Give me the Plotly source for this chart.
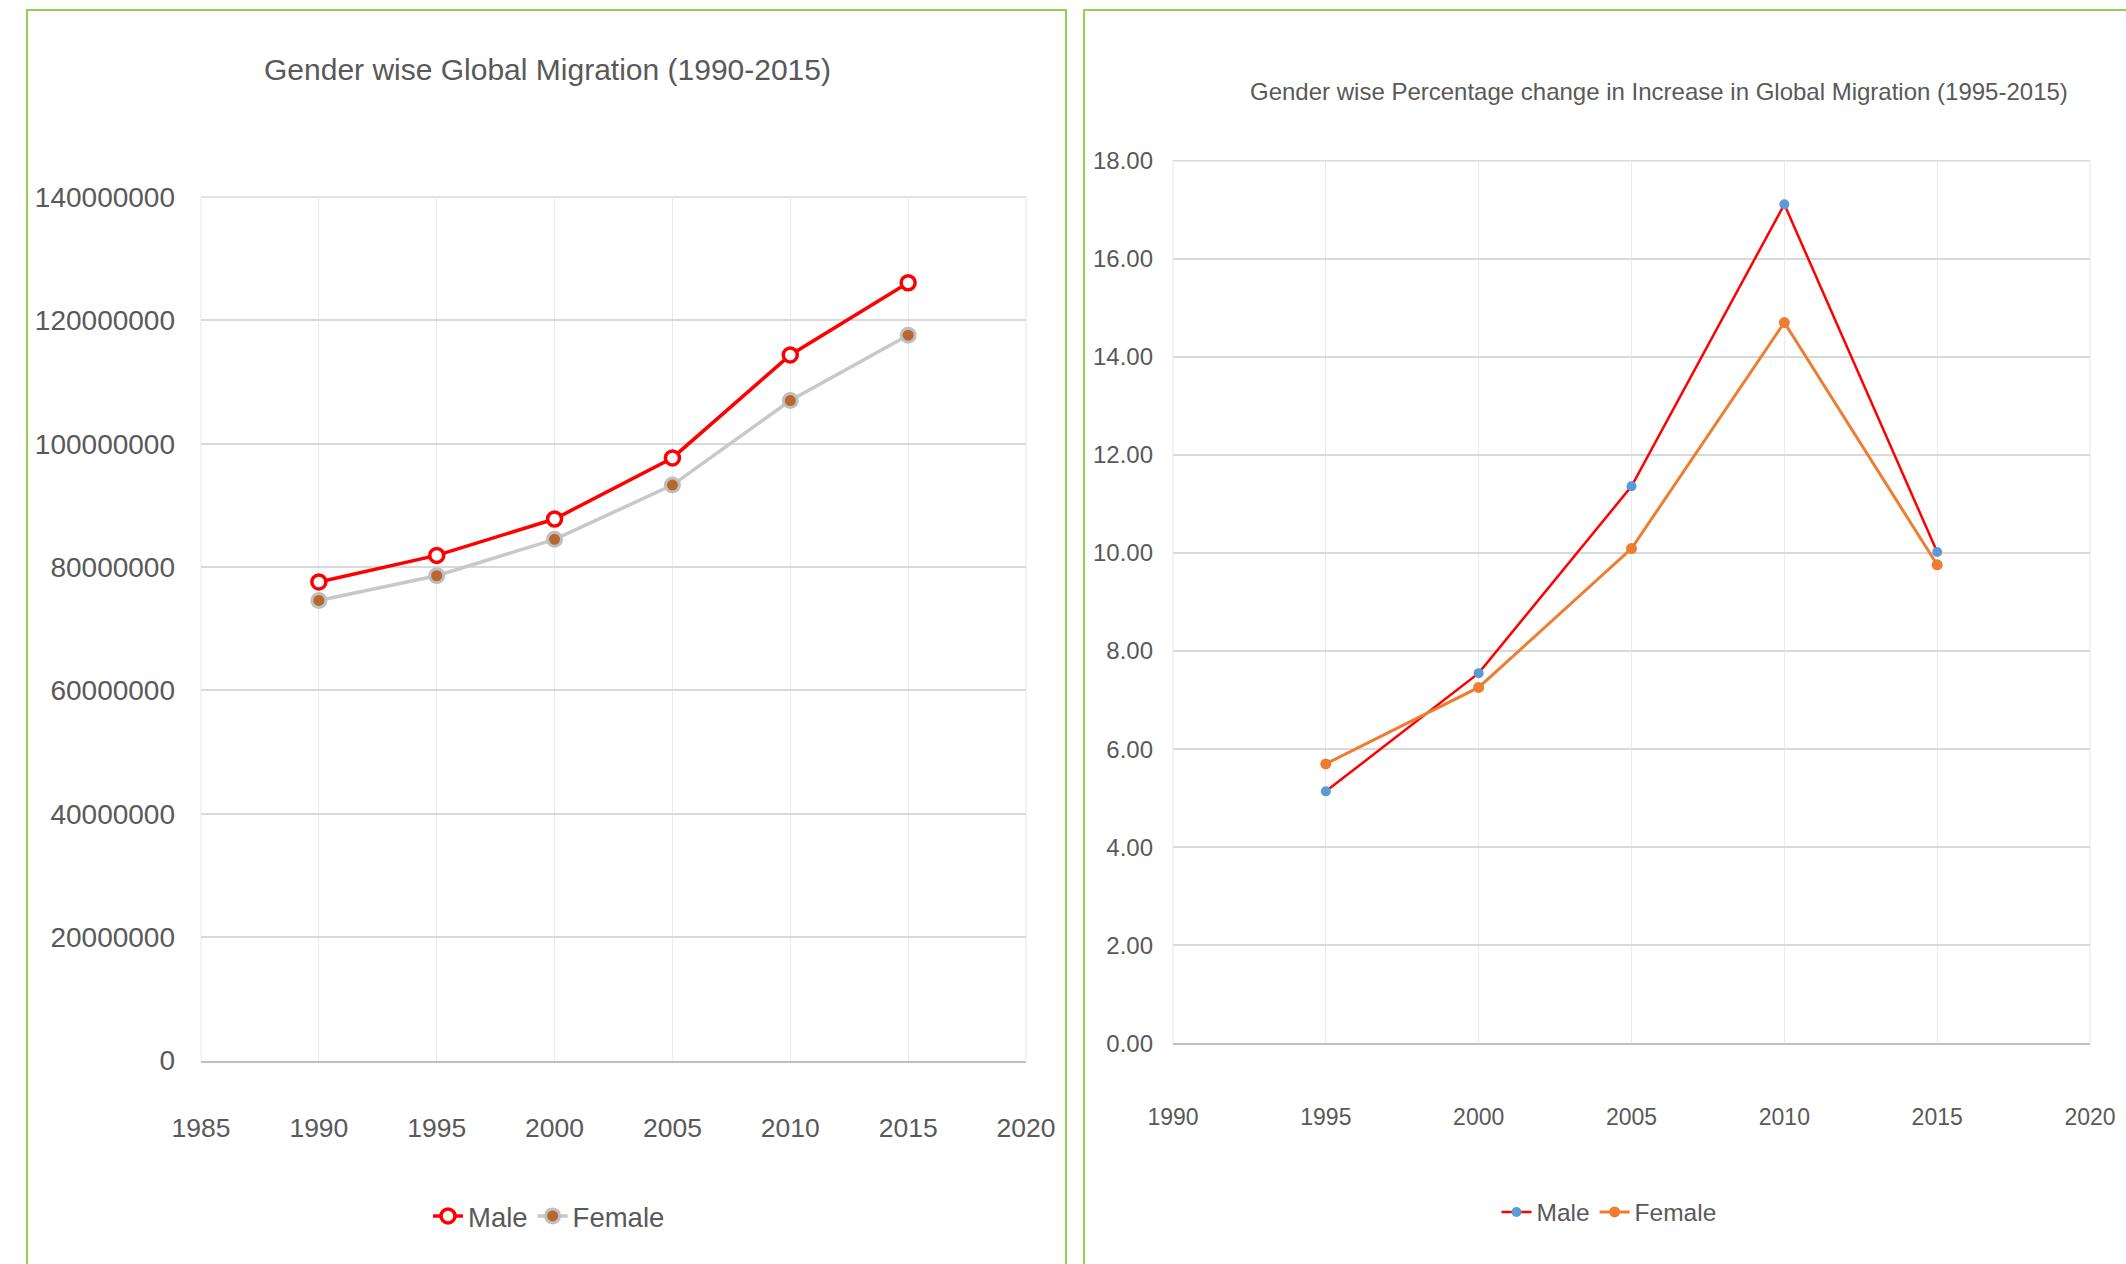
import plotly.graph_objects as go

W, H = 2126, 1264

# ---- data ----
years_left = [1990, 1995, 2000, 2005, 2010, 2015]
male_migrants = [77600000, 81900000, 87800000, 97700000, 114400000, 126100000]
female_migrants = [74600000, 78600000, 84500000, 93300000, 107000000, 117600000]

years_right = [1995, 2000, 2005, 2010, 2015]
male_pct = [5.14, 7.55, 11.36, 17.11, 10.02]
female_pct = [5.70, 7.26, 10.09, 14.70, 9.76]

left_title = "Gender wise Global Migration (1990-2015)"
right_title = "Gender wise Percentage change in Increase in Global Migration (1995-2015)"

FONT = "Liberation Sans, Arial, sans-serif"
TXT = "#595959"

def px(x):
    return x / W

def py(y):
    return 1 - y / H

fig = go.Figure()

fig.add_trace(go.Scatter(
    x=years_left, y=male_migrants, name="Male", mode="lines+markers",
    line=dict(color="#FF0000", width=3.5),
    marker=dict(symbol="circle", size=14, color="white", line=dict(color="#FF0000", width=3.5)),
    xaxis="x", yaxis="y", legend="legend"))
fig.add_trace(go.Scatter(
    x=years_left, y=female_migrants, name="Female", mode="lines+markers",
    line=dict(color="#C8C8C8", width=3.5),
    marker=dict(symbol="circle", size=14, color="#B8672E", line=dict(color="#BFBFBF", width=3)),
    xaxis="x", yaxis="y", legend="legend"))

fig.add_trace(go.Scatter(
    x=years_right, y=male_pct, name="Male", mode="lines+markers",
    line=dict(color="#FF0000", width=2.5),
    marker=dict(symbol="circle", size=10, color="#5B9BD5"),
    xaxis="x2", yaxis="y2", legend="legend2"))
fig.add_trace(go.Scatter(
    x=years_right, y=female_pct, name="Female", mode="lines+markers",
    line=dict(color="#ED7D31", width=3),
    marker=dict(symbol="circle", size=11, color="#ED7D31"),
    xaxis="x2", yaxis="y2", legend="legend2"))

fig.update_layout(
    width=W, height=H,
    margin=dict(l=0, r=0, t=0, b=0),
    paper_bgcolor="white", plot_bgcolor="white",
    font=dict(family=FONT, color=TXT),
    xaxis=dict(domain=[px(201), px(1026)], range=[1985, 2020], tickmode="linear", tick0=1985, dtick=5,
               gridcolor="#EBEBEB", gridwidth=1.2, showline=True, linecolor="#BFBFBF", linewidth=1.5,
               tickfont=dict(family=FONT, color=TXT, size=26.5), ticklabelstandoff=43,
               anchor="y", showgrid=True, zeroline=False, ticks="", automargin=False),
    yaxis=dict(domain=[py(1060.6), py(197)], range=[0, 140000000], tickmode="linear", tick0=0, dtick=20000000,
               tickformat="d", gridcolor="#D9D9D9", gridwidth=1.5,
               tickfont=dict(family=FONT, color=TXT, size=28), ticklabelstandoff=25,
               anchor="x", showgrid=True, zeroline=False, ticks="", automargin=False),
    xaxis2=dict(domain=[px(1173), px(2090)], range=[1990, 2020], tickmode="linear", tick0=1990, dtick=5,
                gridcolor="#EBEBEB", gridwidth=1.2, showline=True, linecolor="#BFBFBF", linewidth=1.5,
                tickfont=dict(family=FONT, color=TXT, size=23), ticklabelstandoff=52,
                anchor="y2", showgrid=True, zeroline=False, ticks="", automargin=False),
    yaxis2=dict(domain=[py(1043.4), py(160.7)], range=[0, 18], tickmode="linear", tick0=0, dtick=2,
                tickformat=".2f", gridcolor="#D9D9D9", gridwidth=1.5,
                tickfont=dict(family=FONT, color=TXT, size=24), ticklabelstandoff=19,
                anchor="x2", showgrid=True, zeroline=False, ticks="", automargin=False),
    legend=dict(orientation="h", x=px(549), y=py(1216), xanchor="center", yanchor="middle",
                font=dict(family=FONT, color=TXT, size=27.5), itemwidth=30, tracegroupgap=0,
                bgcolor="rgba(0,0,0,0)"),
    legend2=dict(orientation="h", x=px(1609), y=py(1212), xanchor="center", yanchor="middle",
                 font=dict(family=FONT, color=TXT, size=24.5), itemwidth=30, tracegroupgap=0,
                 bgcolor="rgba(0,0,0,0)"),
    showlegend=True,
)

fig.add_annotation(text=left_title, x=px(547), y=py(70), xref="paper", yref="paper",
                   showarrow=False, xanchor="center", yanchor="middle",
                   font=dict(family=FONT, color=TXT, size=30))
fig.add_annotation(text=right_title, x=px(1659), y=py(92), xref="paper", yref="paper",
                   showarrow=False, xanchor="center", yanchor="middle",
                   font=dict(family=FONT, color=TXT, size=24))

# plot-area edge lines (gridlines at range ends)
for xa, ya in (("x", "y"), ("x2", "y2")):
    fig.add_shape(type="line", xref=f"{xa} domain", yref=f"{ya} domain", x0=0, x1=1, y0=1, y1=1,
                  line=dict(color="#D9D9D9", width=1.5), layer="below")
    for xe in (0, 1):
        fig.add_shape(type="line", xref=f"{xa} domain", yref=f"{ya} domain", x0=xe, x1=xe, y0=0, y1=1,
                      line=dict(color="#EBEBEB", width=1.2), layer="below")

# panel borders
fig.add_shape(type="rect", xref="paper", yref="paper", x0=px(27), x1=px(1066), y0=-0.05, y1=py(10),
              line=dict(color="#92D050", width=2), fillcolor="rgba(0,0,0,0)", layer="below")
fig.add_shape(type="rect", xref="paper", yref="paper", x0=px(1084), x1=1.05, y0=-0.05, y1=py(10),
              line=dict(color="#92D050", width=2), fillcolor="rgba(0,0,0,0)", layer="below")

fig.write_html("out.html", config={"displayModeBar": False},
               post_script="document.body.style.margin='0';document.body.style.overflow='hidden';")
